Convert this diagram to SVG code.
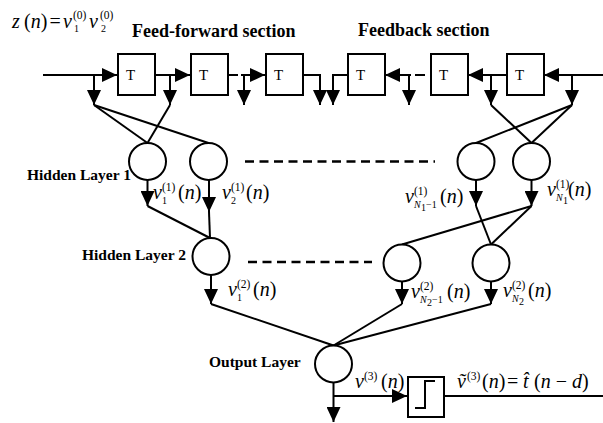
<svg xmlns="http://www.w3.org/2000/svg" width="603" height="423" viewBox="0 0 603 423">
  <style>
    .ln { stroke: #000; stroke-width: 2; fill: none; }
    .arr { stroke: #000; stroke-width: 2; fill: none; marker-end: url(#head); }
    .dash { stroke: #000; stroke-width: 2.5; stroke-dasharray: 9 5.5; fill: none; }
    .box { stroke: #000; stroke-width: 2; fill: #fff; }
    .node { stroke: #000; stroke-width: 2; fill: #fff; }
    .hdr { font-family: "Liberation Serif", "Times New Roman", serif; font-weight: bold; font-size: 18px; }
    .lay { font-family: "Liberation Serif", "Times New Roman", serif; font-weight: bold; font-size: 15.5px; }
    .t { font-family: "Liberation Serif", "Times New Roman", serif; font-size: 15px; }
    .m { font-family: "Liberation Serif", "Times New Roman", serif; font-size: 20px; }
    .i { font-style: italic; }
    .sup { font-family: "Liberation Serif", "Times New Roman", serif; font-size: 11.5px; }
    .sub { font-family: "Liberation Serif", "Times New Roman", serif; font-size: 10px; }
  </style>
  <defs>
    <marker id="head" markerUnits="userSpaceOnUse" viewBox="0 0 15 14" markerWidth="15" markerHeight="14" refX="15" refY="7" orient="auto">
      <path d="M0,0 L15,7 L0,14 z" fill="#000"/>
    </marker>
  </defs>

  <!-- section titles -->
  <text class="hdr" x="132" y="37">Feed-forward section</text>
  <text class="hdr" x="358" y="36">Feedback section</text>

  <!-- input equation -->
  <g id="input-label">
    <text class="m i" x="12" y="28">z</text>
    <text class="m" x="24" y="28">(<tspan class="i">n</tspan>)</text>
    <text class="m" x="49.5" y="28">=</text>
    <text class="m i" x="63" y="28">v</text>
    <text class="sup" x="73" y="19">(0)</text>
    <text class="sub" x="74" y="32">1</text>
    <text class="m i" x="89" y="28">v</text>
    <text class="sup" x="100" y="19">(0)</text>
    <text class="sub" x="101" y="32">2</text>
  </g>

  <!-- connectors -->
  <g id="connectors">
    <!-- feed-forward delay line -->
    <line class="arr" x1="43" y1="75" x2="117" y2="75"/>
    <line class="arr" x1="94" y1="75" x2="94" y2="105"/>
    <line class="arr" x1="155" y1="75" x2="190" y2="75"/>
    <line class="arr" x1="170" y1="75" x2="170" y2="105"/>
    <line class="ln" x1="228" y1="75" x2="238" y2="75"/>
    <line class="arr" x1="241" y1="75" x2="265" y2="75"/>
    <line class="arr" x1="244" y1="75" x2="244" y2="105"/>
    <polyline class="arr" points="303,75 320,75 320,105"/>
    <!-- feedback delay line -->
    <polyline class="arr" points="348,75 333,75 333,105"/>
    <line class="arr" x1="411" y1="75" x2="385" y2="75"/>
    <line class="arr" x1="409" y1="75" x2="409" y2="105"/>
    <line class="ln" x1="415" y1="75" x2="425" y2="75"/>
    <line class="arr" x1="507" y1="75" x2="468" y2="75"/>
    <line class="arr" x1="491" y1="75" x2="491" y2="105"/>
    <line class="arr" x1="603" y1="75" x2="544" y2="75"/>
    <line class="arr" x1="572" y1="75" x2="572" y2="105"/>

    <!-- taps to hidden layer 1 -->
    <line class="ln" x1="94" y1="105" x2="147.5" y2="143"/>
    <line class="ln" x1="94" y1="105" x2="208.5" y2="143"/>
    <line class="ln" x1="170" y1="105" x2="147.5" y2="143"/>
    <line class="ln" x1="491" y1="105" x2="531.5" y2="143"/>
    <line class="ln" x1="572" y1="105" x2="476" y2="143"/>
    <line class="ln" x1="572" y1="105" x2="531.5" y2="143"/>

    <!-- hidden layer 1 outputs -->
    <line class="arr" x1="147.5" y1="180" x2="147.5" y2="206"/>
    <line class="arr" x1="209" y1="180" x2="209" y2="212"/>
    <line class="ln" x1="209" y1="212" x2="210" y2="238"/>
    <line class="ln" x1="147.5" y1="206" x2="210" y2="238"/>
    <line class="arr" x1="476" y1="180" x2="476" y2="206"/>
    <line class="arr" x1="531.5" y1="180" x2="531.5" y2="206"/>
    <line class="ln" x1="476" y1="206" x2="491" y2="244.5"/>
    <line class="ln" x1="531.5" y1="206" x2="402" y2="244.5"/>
    <line class="ln" x1="531.5" y1="206" x2="491" y2="244.5"/>

    <!-- hidden layer 2 outputs -->
    <line class="arr" x1="211" y1="275" x2="211" y2="304"/>
    <line class="arr" x1="402" y1="281.5" x2="402" y2="304"/>
    <line class="arr" x1="491" y1="281.5" x2="491" y2="304"/>
    <line class="ln" x1="211" y1="304" x2="333.5" y2="345.5"/>
    <line class="ln" x1="402" y1="304" x2="333.5" y2="345.5"/>
    <line class="ln" x1="491" y1="304" x2="333.5" y2="345.5"/>

    <!-- output -->
    <line class="arr" x1="333.5" y1="382.5" x2="333.5" y2="422"/>
    <line class="arr" x1="333.5" y1="396" x2="407" y2="396"/>
    <line class="ln" x1="444" y1="396" x2="603" y2="396"/>

    <!-- elided nodes -->
    <line class="dash" x1="245" y1="161.5" x2="435" y2="161.5"/>
    <line class="dash" x1="248" y1="262" x2="372" y2="262"/>
  </g>

  <!-- delay elements -->
  <g id="delay-ff-1"><rect class="box" x="118" y="54" width="37" height="41"/><text class="t" x="126" y="80">T</text></g>
  <g id="delay-ff-2"><rect class="box" x="191" y="54" width="37" height="41"/><text class="t" x="199" y="80">T</text></g>
  <g id="delay-ff-3"><rect class="box" x="266" y="54" width="37" height="41"/><text class="t" x="274" y="80">T</text></g>
  <g id="delay-fb-1"><rect class="box" x="348" y="54" width="37" height="41"/><text class="t" x="356" y="80">T</text></g>
  <g id="delay-fb-2"><rect class="box" x="431" y="54" width="37" height="41"/><text class="t" x="439" y="80">T</text></g>
  <g id="delay-fb-3"><rect class="box" x="507" y="54" width="37" height="41"/><text class="t" x="515" y="80">T</text></g>

  <!-- hidden layer 1 -->
  <text class="lay" x="27" y="180">Hidden Layer 1</text>
  <g id="h1-1"><circle class="node" cx="147.5" cy="161.5" r="18.5"/></g>
  <g id="h1-2"><circle class="node" cx="208.5" cy="161.5" r="18.5"/></g>
  <g id="h1-n1m1"><circle class="node" cx="476" cy="161.5" r="18.5"/></g>
  <g id="h1-n1"><circle class="node" cx="531.5" cy="161.5" r="18.5"/></g>

  <!-- hidden layer 2 -->
  <text class="lay" x="82" y="260">Hidden Layer 2</text>
  <g id="h2-1"><circle class="node" cx="211" cy="256.5" r="18.5"/></g>
  <g id="h2-n2m1"><circle class="node" cx="402" cy="263" r="18.5"/></g>
  <g id="h2-n2"><circle class="node" cx="491" cy="263" r="18.5"/></g>

  <!-- output layer -->
  <text class="lay" x="209" y="367">Output Layer</text>
  <g id="out"><circle class="node" cx="333.5" cy="364" r="18.5"/></g>

  <!-- hard limiter -->
  <g id="limiter">
    <rect class="box" x="408" y="377" width="36" height="40"/>
    <polyline class="ln" points="415,408 425,408 425,381 435,381"/>
  </g>

  <!-- signal labels -->
  <g id="lbl-v11">
    <text class="m i" x="153" y="199">v</text>
    <text class="sup" x="162" y="191">(1)</text>
    <text class="sub" x="162" y="204">1</text>
    <text class="m" x="178" y="199">(<tspan class="i">n</tspan>)</text>
  </g>
  <g id="lbl-v21">
    <text class="m i" x="222" y="199">v</text>
    <text class="sup" x="231" y="191">(1)</text>
    <text class="sub" x="231" y="204">2</text>
    <text class="m" x="246" y="199">(<tspan class="i">n</tspan>)</text>
  </g>
  <g id="lbl-vn1m1">
    <text class="m i" x="405" y="203">v</text>
    <text class="sup" x="414" y="195">(1)</text>
    <text class="sub i" x="414" y="208">N</text>
    <text class="sub" x="421" y="211" font-size="7">1</text>
    <text class="sub" x="426" y="208">−1</text>
    <text class="m" x="440" y="203">(<tspan class="i">n</tspan>)</text>
  </g>
  <g id="lbl-vn1">
    <text class="m i" x="547" y="196">v</text>
    <text class="sup" x="556" y="188">(1)</text>
    <text class="sub i" x="556" y="201">N</text>
    <text class="sub" x="563" y="204" font-size="7">1</text>
    <text class="m" x="568" y="196">(<tspan class="i">n</tspan>)</text>
  </g>
  <g id="lbl-v12">
    <text class="m i" x="228" y="296">v</text>
    <text class="sup" x="237" y="288">(2)</text>
    <text class="sub" x="237" y="301">1</text>
    <text class="m" x="253" y="296">(<tspan class="i">n</tspan>)</text>
  </g>
  <g id="lbl-vn2m1">
    <text class="m i" x="411" y="298">v</text>
    <text class="sup" x="420" y="290">(2)</text>
    <text class="sub i" x="420" y="303">N</text>
    <text class="sub" x="427" y="306" font-size="7">2</text>
    <text class="sub" x="432" y="303">−1</text>
    <text class="m" x="447" y="298">(<tspan class="i">n</tspan>)</text>
  </g>
  <g id="lbl-vn2">
    <text class="m i" x="503" y="297">v</text>
    <text class="sup" x="512" y="289">(2)</text>
    <text class="sub i" x="512" y="302">N</text>
    <text class="sub" x="519" y="305" font-size="7">2</text>
    <text class="m" x="528" y="297">(<tspan class="i">n</tspan>)</text>
  </g>
  <g id="lbl-v3">
    <text class="m i" x="355" y="388">v</text>
    <text class="sup" x="364" y="380">(3)</text>
    <text class="m" x="381" y="388">(<tspan class="i">n</tspan>)</text>
  </g>
  <g id="lbl-out">
    <!-- accents written as combining marks on their base letters -->
    <text class="m i" x="457" y="388">v&#x303;</text>
    <text class="sup" x="467" y="380">(3)</text>
    <text class="m" x="482" y="388">(<tspan class="i">n</tspan>)</text>
    <text class="m" x="507" y="388">=</text>
    <text class="m i" x="523" y="388">t&#x302;</text>
    <text class="m" x="534" y="388">(<tspan class="i">n</tspan> − <tspan class="i">d</tspan>)</text>
  </g>
</svg>
